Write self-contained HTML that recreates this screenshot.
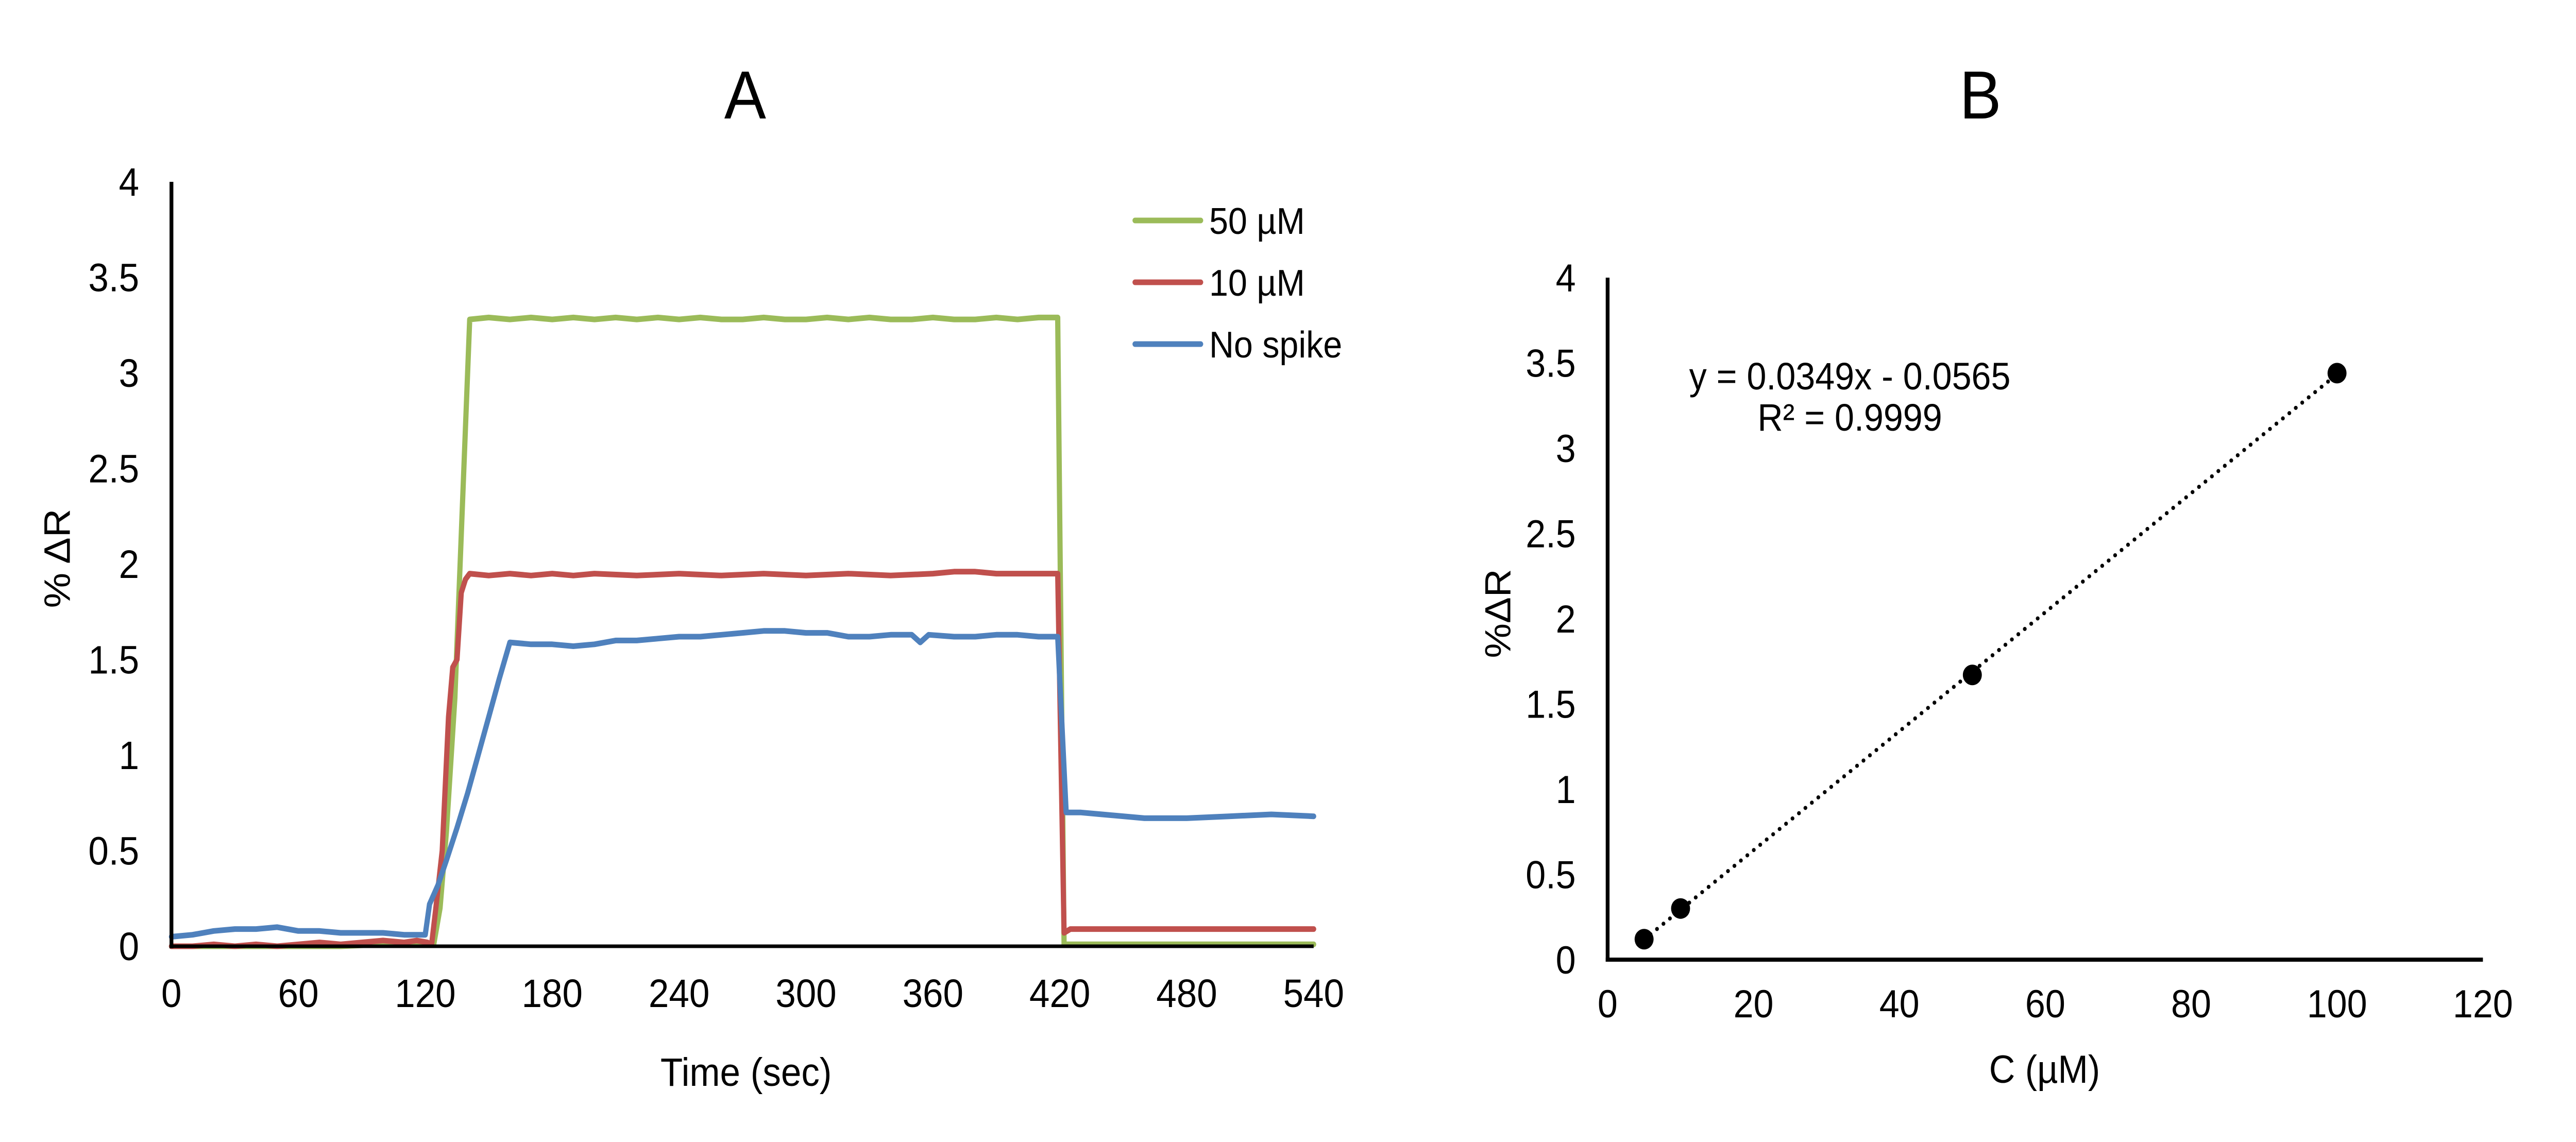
<!DOCTYPE html>
<html><head><meta charset="utf-8"><style>
html,body{margin:0;padding:0;background:#fff;width:100%;height:100%;overflow:hidden;}
svg{display:block;width:100vw;height:100vh;font-family:"Liberation Sans",Arial,sans-serif;}
</style></head><body>
<svg id="fig" viewBox="0 0 5424 2217" preserveAspectRatio="none" xmlns="http://www.w3.org/2000/svg">
<rect width="5424" height="2217" fill="#fff"/>
<g id="chartA"></g>
<g id="chartB"></g>
</svg>
<script>
// ---- Chart A data ----
const aXTicks = [0,60,120,180,240,300,360,420,480,540];
const aYTicks = [0,0.5,1,1.5,2,2.5,3,3.5,4];
const aYTickLabels = ["0","0.5","1","1.5","2","2.5","3","3.5","4"];
const greenT = [0,20,40,60,80,100,118,124,127,130,134,141,150,160,170,180,190,200,210,220,230,240,250,260,270,280,290,300,310,320,330,340,350,360,370,380,390,400,410,419,422,430,460,500,540];
const greenV = [0,0,0,0,0,0.01,0.01,0.01,0.2,0.6,1.3,3.28,3.29,3.28,3.29,3.28,3.29,3.28,3.29,3.28,3.29,3.28,3.29,3.28,3.28,3.29,3.28,3.28,3.29,3.28,3.29,3.28,3.28,3.29,3.28,3.28,3.29,3.28,3.29,3.29,0.01,0.01,0.01,0.01,0.01];
const redT = [0,10,20,30,40,50,60,70,80,90,100,110,116,121,123,125,128,131,133,135,137,139,141,150,160,170,180,190,200,220,240,260,280,300,320,340,360,370,380,390,400,410,419,422,425,460,500,540];
const redV = [0,0,0.01,0,0.01,0,0.01,0.02,0.01,0.02,0.03,0.02,0.03,0.02,0.01,0.2,0.5,1.2,1.46,1.5,1.85,1.92,1.95,1.94,1.95,1.94,1.95,1.94,1.95,1.94,1.95,1.94,1.95,1.94,1.95,1.94,1.95,1.96,1.96,1.95,1.95,1.95,1.95,0.07,0.09,0.09,0.09,0.09];
const blueT = [0,10,20,30,40,50,60,70,80,90,100,110,120,122,126,130,135,140,145,150,155,160,170,180,190,200,210,220,230,240,250,260,270,280,290,300,310,320,330,340,350,354,358,370,380,390,400,410,419,423,430,440,460,480,500,520,540];
const blueV = [0.05,0.06,0.08,0.09,0.09,0.1,0.08,0.08,0.07,0.07,0.07,0.06,0.06,0.22,0.32,0.45,0.62,0.8,1.0,1.2,1.4,1.59,1.58,1.58,1.57,1.58,1.6,1.6,1.61,1.62,1.62,1.63,1.64,1.65,1.65,1.64,1.64,1.62,1.62,1.63,1.63,1.59,1.63,1.62,1.62,1.63,1.63,1.62,1.62,0.7,0.7,0.69,0.67,0.67,0.68,0.69,0.68];
const aSeriesNames = ["50 µM","10 µM","No spike"];
// ---- Chart B data ----
const bXTicks = [0,20,40,60,80,100,120];
const bYTicks = [0,0.5,1,1.5,2,2.5,3,3.5,4];
const bYTickLabels = ["0","0.5","1","1.5","2","2.5","3","3.5","4"];
const bConc = [5,10,50,100];
const bResp = [0.12,0.30,1.67,3.44];
const bSlope = 0.0349;
const bIntercept = -0.0565;

const NS = "http://www.w3.org/2000/svg";
function mk(tag, attrs, parent, text){
  const e = document.createElementNS(NS, tag);
  for (const k in attrs) e.setAttribute(k, attrs[k]);
  if (text !== undefined) e.textContent = text;
  parent.appendChild(e);
  return e;
}

// ---------- Chart A ----------
const gA = document.getElementById('chartA');
const ax = t => 361 + (t/540)*(2766-361);
const ay = v => 1837 - (v/4)*(1837-353);

let e;
e = mk('text',{x:1569,y:230,'font-size':132,'text-anchor':'middle'},gA,'A');



aYTicks.forEach((v,i)=>{
  const t = mk('text',{x:293,y:ay(v)+27,'font-size':77,'text-anchor':'end'},gA,aYTickLabels[i]);
  
  
});
aXTicks.forEach(v=>{
  const t = mk('text',{x:ax(v),y:1955,'font-size':77,'text-anchor':'middle'},gA,String(v));
  
  
});
e = mk('text',{x:1571,y:2108,'font-size':77,'text-anchor':'middle'},gA,'Time (sec)');


e = mk('text',{x:0,y:0,'font-size':77,'text-anchor':'middle',transform:'translate(147,1084) rotate(-90)'},gA,'% ΔR');



const colors = ['#9BBB59','#C0504D','#4F81BD'];
const sets = [[greenT,greenV],[redT,redV],[blueT,blueV]];
const lnames = ['line-50um','line-10um','line-no-spike'];
sets.forEach((s,i)=>{
  const d = s[0].map((t,j)=>(j?'L':'M')+ax(t).toFixed(1)+' '+ay(s[1][j]).toFixed(1)).join(' ');
  const p = mk('path',{d:d,fill:'none',stroke:colors[i],'stroke-width':11,'stroke-linejoin':'round','stroke-linecap':'round'},gA);
  
  
});
e = mk('line',{x1:361,y1:353,x2:361,y2:1841,stroke:'#000','stroke-width':8},gA);


e = mk('line',{x1:357,y1:1837,x2:2766,y2:1837,stroke:'#000','stroke-width':7},gA);



const legY = [428,548,668];
aSeriesNames.forEach((n,i)=>{
  const l = mk('line',{x1:2390,y1:legY[i],x2:2528,y2:legY[i],stroke:colors[i],'stroke-width':11,'stroke-linecap':'round'},gA);
  
  
  const t = mk('text',{x:2546,y:legY[i]+26,'font-size':72},gA,n);
  
  
});

// ---------- Chart B ----------
const gB = document.getElementById('chartB');
const bx = c => 3385 + (c/120)*(5228-3385);
const by = v => 1863 - (v/4)*(1863-539);

e = mk('text',{x:4170,y:230,'font-size':132,'text-anchor':'middle'},gB,'B');


bYTicks.forEach((v,i)=>{
  const t = mk('text',{x:3318,y:by(v)+27,'font-size':76,'text-anchor':'end'},gB,bYTickLabels[i]);
  
  
});
bXTicks.forEach(v=>{
  const t = mk('text',{x:bx(v),y:1975,'font-size':76,'text-anchor':'middle'},gB,String(v));
  
  
});
e = mk('text',{x:4305,y:2102,'font-size':76,'text-anchor':'middle'},gB,'C (µM)');


e = mk('text',{x:0,y:0,'font-size':76,'text-anchor':'middle',transform:'translate(3180,1191) rotate(-90)'},gB,'%ΔR');



const c0 = bConc[0], c1 = bConc[bConc.length-1];
e = mk('line',{x1:bx(c0),y1:by(bSlope*c0+bIntercept),x2:bx(c1),y2:by(bSlope*c1+bIntercept),stroke:'#000','stroke-width':8,'stroke-dasharray':'0 17','stroke-linecap':'round'},gB);


bConc.forEach((c,i)=>{
  const m = mk('circle',{cx:bx(c),cy:by(bResp[i]),r:20,fill:'#000'},gB);
  
  
});
e = mk('line',{x1:3385,y1:539,x2:3385,y2:1867,stroke:'#000','stroke-width':8},gB);


e = mk('line',{x1:3381,y1:1863,x2:5228,y2:1863,stroke:'#000','stroke-width':8},gB);


e = mk('text',{x:3895,y:756,'font-size':74,'text-anchor':'middle'},gB,'y = 0.0349x - 0.0565');


e = mk('text',{x:3895,y:836,'font-size':74,'text-anchor':'middle'},gB,'R² = 0.9999');


</script>
</body></html>
